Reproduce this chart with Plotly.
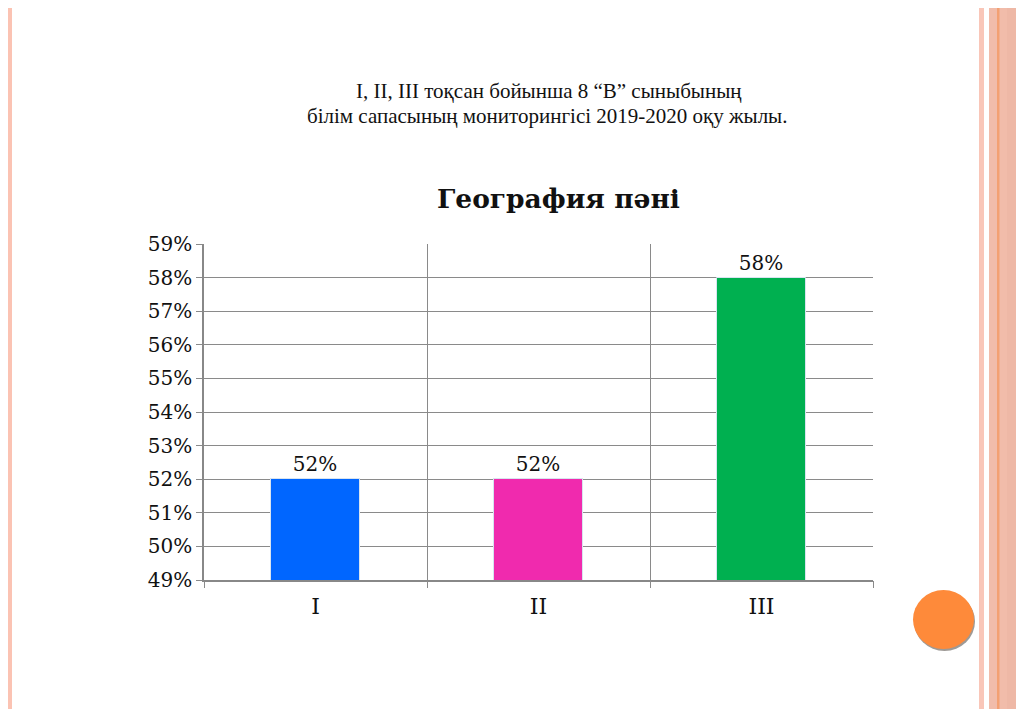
import plotly.graph_objects as go

categories = ["I", "II", "III"]
values = [0.52, 0.52, 0.58]
labels = ["52%", "52%", "58%"]
colors = ["#0066FF", "#F02AAE", "#00B050"]

OFF = 8  # page body margin
W, H = 1024 - OFF, 709 - OFF
L, R, T, B = 204, 873, 244, 580


def px(x):
    return (x - L) / (R - L)


def py(y):
    return (B - y) / (B - T)


fig = go.Figure()
fig.add_trace(go.Bar(
    x=list(range(len(categories))), y=values, marker_color=colors,
    marker_line=dict(color="#d8e4f0", width=1),
    width=0.395, text=labels, textposition="outside",
    textfont=dict(family="DejaVu Serif", size=20, color="#111"),
    cliponaxis=False, showlegend=False,
))
fig.add_trace(go.Scatter(x=[-0.5, 2.5], y=[0.49, 0.49], xaxis="x2", mode="markers",
                         marker=dict(opacity=0), showlegend=False, hoverinfo="skip"))

shapes = []
shapes.append(dict(type="rect", xref="paper", yref="paper", x0=px(5), x1=px(12), y0=py(720), y1=py(-10),
                   fillcolor="#FBC3B3", line_width=0, layer="below"))
shapes.append(dict(type="rect", xref="paper", yref="paper", x0=px(979), x1=px(984), y0=py(720), y1=py(-10),
                   fillcolor="#F9C6B8", line_width=0, layer="below"))
shapes.append(dict(type="rect", xref="paper", yref="paper", x0=px(989), x1=px(1030), y0=py(720), y1=py(-10),
                   fillcolor="#F1BCAA", line_width=0, layer="below"))
shapes.append(dict(type="rect", xref="paper", yref="paper", x0=px(997), x1=px(999.5), y0=py(720), y1=py(-10),
                   fillcolor="#F3A072", line_width=0, layer="below"))
shapes.append(dict(type="rect", xref="paper", yref="paper", x0=px(1007), x1=px(1030), y0=py(720), y1=py(-10),
                   fillcolor="#EEB8A6", line_width=0, layer="below"))
shapes.append(dict(type="circle", xref="paper", yref="paper", x0=px(914), x1=px(975), y0=py(651), y1=py(592),
                   fillcolor="#9E9A96", line_width=0))
shapes.append(dict(type="circle", xref="paper", yref="paper", x0=px(913), x1=px(974), y0=py(649), y1=py(590),
                   fillcolor="#FE8A3A", line_width=0))
fig.update_layout(shapes=shapes)

ann = dict(xref="paper", yref="paper", showarrow=False, xanchor="center", yanchor="middle")
fig.add_annotation(**ann, x=px(549), y=py(91),
                   text="I, II, III тоқсан бойынша 8 “B” сыныбының",
                   font=dict(family="Liberation Serif", size=21, color="#111"))
fig.add_annotation(**ann, x=px(547), y=py(116),
                   text="білім сапасының мониторингісі 2019-2020 оқу жылы.",
                   font=dict(family="Liberation Serif", size=21, color="#111"))
fig.add_annotation(**ann, x=px(558), y=py(198),
                   text="<b>География пәні</b>",
                   font=dict(family="DejaVu Serif", size=26.5, color="#111"))

fig.update_layout(
    width=W, height=H,
    margin=dict(l=L - OFF, r=W - (R - OFF), t=T - OFF, b=H - (B - OFF), pad=0),
    paper_bgcolor="white", plot_bgcolor="white",
    xaxis=dict(range=[-0.5, 2.5], tickvals=list(range(len(categories))), ticktext=categories,
               showgrid=False, zeroline=False, showline=True, linecolor="#888", linewidth=1.5,
               ticks="", ticklabelstandoff=6,
               tickfont=dict(family="DejaVu Serif", size=22, color="#111")),
    xaxis2=dict(overlaying="x", range=[-0.5, 2.5], tickvals=[-0.5, 0.5, 1.5, 2.5],
                showticklabels=False, showgrid=True, gridcolor="#8a8a8a", gridwidth=1.3,
                ticks="outside", ticklen=7, tickcolor="#8a8a8a", tickwidth=1.3, zeroline=False,
                side="bottom", anchor="y"),
    yaxis=dict(range=[0.49, 0.59], dtick=0.01, tickformat=".0%", showgrid=True,
               gridcolor="#8a8a8a", gridwidth=1.3, showline=True, linecolor="#888", linewidth=1.5,
               ticks="outside", ticklen=6, tickcolor="#8a8a8a", zeroline=False,
               tickfont=dict(family="DejaVu Serif", size=20, color="#111")),
    bargap=0,
)

fig.write_html("out.html")
